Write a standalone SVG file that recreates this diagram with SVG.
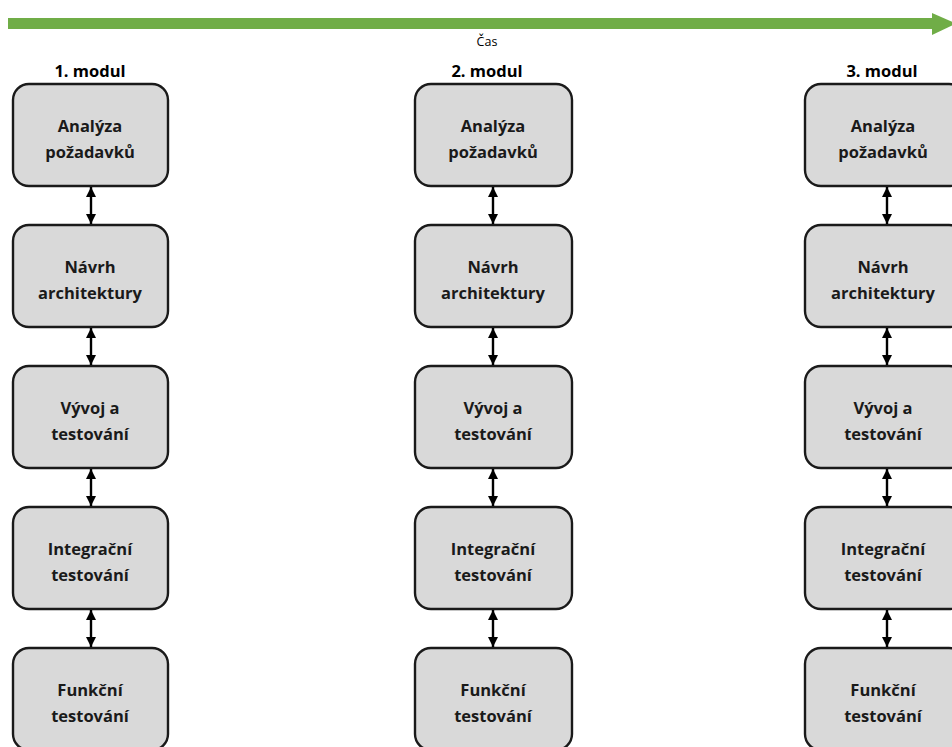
<svg xmlns="http://www.w3.org/2000/svg" width="952" height="747" viewBox="0 0 952 747">
  <style>
    .box { fill: #D9D9D9; stroke: #1A1A1A; stroke-width: 2.4; }
    .lbl { font-family: "Open Sans", "Liberation Sans", sans-serif; font-weight: 700; font-size: 16.5px; fill: #1A1A1A; text-anchor: middle; }
    .title { font-family: "Open Sans", "Liberation Sans", sans-serif; font-weight: 700; font-size: 16.5px; fill: #000; text-anchor: middle; }
    .time { font-family: "Open Sans", "Liberation Sans", sans-serif; font-size: 12.5px; fill: #000; text-anchor: middle; }
    .link { stroke: #000; stroke-width: 2.4; fill: none; marker-start: url(#head); marker-end: url(#head); }
  </style>
  <defs>
    <marker id="head" viewBox="0 0 10 10" refX="10" refY="5" markerWidth="11" markerHeight="10" markerUnits="userSpaceOnUse" orient="auto-start-reverse">
      <path d="M0,0 L10,5 L0,10 Z" fill="#000"/>
    </marker>
  </defs>

  <rect width="952" height="747" fill="#FFFFFF"/>

  <!-- timeline -->
  <g id="timeline">
    <rect x="8" y="18" width="926" height="11" fill="#70AD47"/>
    <polygon points="932,13 956,23.5 932,35" fill="#70AD47"/>
    <text class="time" x="487" y="46">Čas</text>
  </g>

  <!-- column titles -->
  <text class="title" x="90" y="77">1. modul</text>
  <text class="title" x="487" y="77">2. modul</text>
  <text class="title" x="882" y="77">3. modul</text>

  <!-- column 1 -->
  <g id="m1-analyza"><rect class="box" x="13" y="84" width="155" height="102" rx="16"/><text class="lbl" x="90" y="132">Analýza</text><text class="lbl" x="90" y="158">požadavků</text></g>
  <g id="m1-navrh"><rect class="box" x="13" y="225" width="155" height="102" rx="16"/><text class="lbl" x="90" y="273">Návrh</text><text class="lbl" x="90" y="299">architektury</text></g>
  <g id="m1-vyvoj"><rect class="box" x="13" y="366" width="155" height="102" rx="16"/><text class="lbl" x="90" y="414">Vývoj a</text><text class="lbl" x="90" y="440">testování</text></g>
  <g id="m1-integrace"><rect class="box" x="13" y="507" width="155" height="102" rx="16"/><text class="lbl" x="90" y="555">Integrační</text><text class="lbl" x="90" y="581">testování</text></g>
  <g id="m1-funkcni"><rect class="box" x="13" y="648" width="155" height="102" rx="16"/><text class="lbl" x="90" y="696">Funkční</text><text class="lbl" x="90" y="722">testování</text></g>

  <!-- column 2 -->
  <g id="m2-analyza"><rect class="box" x="415" y="84" width="157" height="102" rx="16"/><text class="lbl" x="493" y="132">Analýza</text><text class="lbl" x="493" y="158">požadavků</text></g>
  <g id="m2-navrh"><rect class="box" x="415" y="225" width="157" height="102" rx="16"/><text class="lbl" x="493" y="273">Návrh</text><text class="lbl" x="493" y="299">architektury</text></g>
  <g id="m2-vyvoj"><rect class="box" x="415" y="366" width="157" height="102" rx="16"/><text class="lbl" x="493" y="414">Vývoj a</text><text class="lbl" x="493" y="440">testování</text></g>
  <g id="m2-integrace"><rect class="box" x="415" y="507" width="157" height="102" rx="16"/><text class="lbl" x="493" y="555">Integrační</text><text class="lbl" x="493" y="581">testování</text></g>
  <g id="m2-funkcni"><rect class="box" x="415" y="648" width="157" height="102" rx="16"/><text class="lbl" x="493" y="696">Funkční</text><text class="lbl" x="493" y="722">testování</text></g>

  <!-- column 3 -->
  <g id="m3-analyza"><rect class="box" x="805" y="84" width="160" height="102" rx="16"/><text class="lbl" x="883" y="132">Analýza</text><text class="lbl" x="883" y="158">požadavků</text></g>
  <g id="m3-navrh"><rect class="box" x="805" y="225" width="160" height="102" rx="16"/><text class="lbl" x="883" y="273">Návrh</text><text class="lbl" x="883" y="299">architektury</text></g>
  <g id="m3-vyvoj"><rect class="box" x="805" y="366" width="160" height="102" rx="16"/><text class="lbl" x="883" y="414">Vývoj a</text><text class="lbl" x="883" y="440">testování</text></g>
  <g id="m3-integrace"><rect class="box" x="805" y="507" width="160" height="102" rx="16"/><text class="lbl" x="883" y="555">Integrační</text><text class="lbl" x="883" y="581">testování</text></g>
  <g id="m3-funkcni"><rect class="box" x="805" y="648" width="160" height="102" rx="16"/><text class="lbl" x="883" y="696">Funkční</text><text class="lbl" x="883" y="722">testování</text></g>

  <!-- two-way links between phases -->
  <g id="connectors">
    <line class="link" x1="91" y1="187" x2="91" y2="224"/>
    <line class="link" x1="91" y1="328" x2="91" y2="365"/>
    <line class="link" x1="91" y1="469" x2="91" y2="506"/>
    <line class="link" x1="91" y1="610" x2="91" y2="647"/>

    <line class="link" x1="493" y1="187" x2="493" y2="224"/>
    <line class="link" x1="493" y1="328" x2="493" y2="365"/>
    <line class="link" x1="493" y1="469" x2="493" y2="506"/>
    <line class="link" x1="493" y1="610" x2="493" y2="647"/>

    <line class="link" x1="887" y1="187" x2="887" y2="224"/>
    <line class="link" x1="887" y1="328" x2="887" y2="365"/>
    <line class="link" x1="887" y1="469" x2="887" y2="506"/>
    <line class="link" x1="887" y1="610" x2="887" y2="647"/>
  </g>
</svg>
